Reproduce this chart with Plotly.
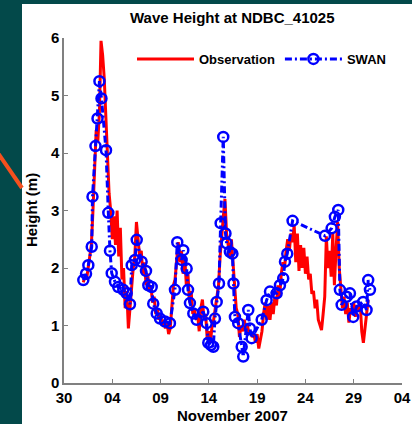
import pandas as pd
import plotly.graph_objects as go

# ---------------- data ----------------
obs_start = "2007-11-01 00:00"
obs_step_hours = 4
obs_height = [
    1.75, 1.85, 1.8, 2.0, 2.15, 2.4,      # Nov 1
    3.0, 3.8, 4.4, 4.2, 4.7, 5.95,        # Nov 2
    5.7, 5.3, 4.6, 3.9, 3.3, 3.0,         # Nov 3
    2.5, 2.9, 2.4, 3.0, 2.2, 2.7,         # Nov 4
    1.8, 2.0, 1.3, 1.6, 0.95, 1.3,        # Nov 5
    1.7, 2.0, 2.2, 2.8, 2.5, 2.2,         # Nov 6
    2.3, 1.9, 2.1, 1.7, 1.9, 1.6,         # Nov 7
    1.7, 1.4, 1.5, 1.2, 1.3, 1.1,         # Nov 8
    1.2, 1.0, 1.1, 0.95, 1.05, 0.85,      # Nov 9
    0.95, 1.3, 1.7, 1.8, 2.2, 2.45,       # Nov 10
    2.1, 2.3, 1.9, 2.2, 1.7, 1.9,         # Nov 11
    1.4, 1.6, 1.2, 1.3, 1.1, 1.2,         # Nov 12
    0.9, 1.3, 1.45, 1.1, 1.2, 0.75,       # Nov 13
    0.9, 0.7, 1.0, 1.1, 1.3, 1.5,         # Nov 14
    1.7, 2.2, 2.6, 2.9, 3.2, 2.6,         # Nov 15
    2.4, 2.2, 2.5, 2.0, 1.7, 1.3,         # Nov 16
    1.2, 0.8, 1.0, 0.9, 1.1, 0.95,        # Nov 17
    1.0, 0.85, 0.9, 0.8, 0.85, 0.7,       # Nov 18
    0.85, 0.6, 0.75, 0.9, 1.2, 1.4,       # Nov 19
    1.1, 1.35, 1.1, 1.4, 1.2, 1.5,        # Nov 20
    1.35, 1.7, 1.5, 1.9, 2.1, 2.0,        # Nov 21
    2.3, 2.5, 2.3, 2.6, 2.45, 2.75,       # Nov 22
    2.1, 2.6, 1.95, 2.4, 2.0, 2.35,       # Nov 23
    1.9, 2.2, 1.8, 1.9, 1.55, 1.6,        # Nov 24
    1.3, 1.45, 1.1, 1.0, 0.92, 1.2,       # Nov 25
    1.5, 2.55, 2.0, 2.3, 1.85, 2.6,       # Nov 26
    1.7, 2.3, 2.8, 2.0, 1.6, 1.3,         # Nov 27
    1.5, 1.2, 1.4, 1.05, 1.3, 1.2,        # Nov 28
    1.4, 1.15, 1.35, 1.25, 1.4, 0.9,      # Nov 29
    0.7, 1.0, 1.2, 1.45,                  # Nov 30
]

# SWAN output: days after 2007-10-30 00:00, and wave height (m)
swan_day = [
    2.00, 2.28, 2.52, 2.87, 2.95, 3.26, 3.47, 3.67, 3.88, 4.35,
    4.59, 4.76, 4.94, 5.28, 5.62, 6.14, 6.49, 6.83, 7.01, 7.35,
    7.53, 8.04, 8.49, 8.73, 9.08, 9.24, 9.60, 9.94, 10.46, 10.97,
    11.49, 11.73, 12.18, 12.35, 12.70, 12.84, 13.04, 13.39, 13.74, 14.42,
    14.77, 14.94, 15.22, 15.46, 15.63, 15.81, 16.05, 16.22, 16.49, 16.72,
    16.84, 17.18, 17.44, 17.55, 17.70, 18.04, 18.40, 18.56, 19.08, 19.25,
    19.43, 20.47, 20.98, 21.33, 22.02, 22.36, 22.70, 22.88, 23.12, 23.67,
    27.02, 27.71, 28.05, 28.40, 28.57, 28.75, 29.26, 29.61, 29.95, 30.30,
    30.98, 31.33, 31.50, 31.68,
]
swan_height = [
    1.79, 1.90, 2.05, 2.37, 3.24, 4.12, 4.60, 5.25, 4.95, 4.05,
    2.96, 2.30, 1.91, 1.76, 1.67, 1.62, 1.56, 1.37, 2.05, 2.14,
    2.49, 2.11, 1.95, 1.70, 1.67, 1.38, 1.21, 1.12, 1.07, 1.04,
    1.62, 2.45, 2.14, 2.31, 1.99, 1.62, 1.39, 1.21, 1.10, 1.24,
    1.04, 0.70, 0.66, 0.63, 1.12, 1.41, 1.73, 2.78, 4.28, 2.60,
    2.43, 2.28, 2.25, 1.73, 1.15, 1.04, 0.63, 0.46, 1.27, 0.95,
    0.78, 1.10, 1.44, 1.59, 1.56, 1.70, 1.82, 2.11, 2.25, 2.82,
    2.56, 2.69, 2.89, 3.01, 1.62, 1.36, 1.50, 1.56, 1.15, 1.33,
    1.41, 1.27, 1.79, 1.62,
]

tick_dates = ["2007-10-30", "2007-11-04", "2007-11-09", "2007-11-14",
              "2007-11-19", "2007-11-24", "2007-11-29", "2007-12-04"]
tick_labels = ["30", "04", "09", "14", "19", "24", "29", "04"]
y_ticks = [0, 1, 2, 3, 4, 5, 6]

# ---------------- build ----------------
obs_time = pd.date_range(obs_start, periods=len(obs_height), freq=f"{obs_step_hours}h")
base = pd.Timestamp("2007-10-30 00:00")
swan_time = [base + pd.Timedelta(days=d) for d in swan_day]

FONT = "Liberation Sans, Arial, sans-serif"
W, H = 412, 424
L, R, T, B = 64, 10, 38, 41
pw, ph = W - L - R, H - T - B


def px(xp):
    return (xp - L) / pw


def py(yp):
    return (H - B - yp) / ph


fig = go.Figure()
fig.add_trace(go.Scatter(
    x=obs_time, y=obs_height, mode="lines", name="Observation",
    line=dict(color="#ff0000", width=3),
))
fig.add_trace(go.Scatter(
    x=swan_time, y=swan_height, mode="lines+markers", name="SWAN",
    line=dict(color="#0000ff", width=3, dash="7px,3px,2px,3px"),
    marker=dict(symbol="circle-open", size=10, color="#0000ff",
                line=dict(width=2.5, color="#0000ff")),
))

fig.update_layout(
    width=W, height=H,
    margin=dict(l=L, r=R, t=T, b=B, autoexpand=False),
    paper_bgcolor="#03494a",
    plot_bgcolor="white",
    font=dict(family=FONT, color="black", size=15),
    showlegend=True,
    legend=dict(
        orientation="h", x=px(132), y=py(59), xanchor="left", yanchor="middle",
        bgcolor="rgba(0,0,0,0)", itemwidth=57,
        font=dict(family=FONT, size=13, color="black", weight="bold"),
        tracegroupgap=0,
    ),
    xaxis=dict(
        type="date", range=["2007-10-30", "2007-12-04"],
        tickvals=tick_dates, ticktext=tick_labels,
        ticks="inside", ticklen=4, tickcolor="#808080", tickwidth=1,
        showline=True, linecolor="#808080", linewidth=1.5,
        showgrid=False, zeroline=False,
        tickfont=dict(family=FONT, size=15, weight="bold"),
    ),
    yaxis=dict(
        range=[0, 6], tickvals=y_ticks,
        ticks="inside", ticklen=4, tickcolor="#808080", tickwidth=1,
        showline=True, linecolor="#808080", linewidth=1.5,
        showgrid=False, zeroline=False,
        tickfont=dict(family=FONT, size=15, weight="bold"),
    ),
    shapes=[
        dict(type="rect", xref="paper", yref="paper", layer="below",
             x0=px(22), x1=px(W + 5), y0=py(H + 5), y1=py(4),
             fillcolor="white", line=dict(width=0)),
        dict(type="line", xref="paper", yref="paper",
             x0=px(-2), y0=py(153), x1=px(22), y1=py(188),
             line=dict(color="#f5501e", width=4)),
    ],
    annotations=[
        dict(text="<b>Wave Height at NDBC_41025</b>", xref="paper", yref="paper",
             x=px(232), y=py(18), showarrow=False, xanchor="center", yanchor="middle",
             font=dict(family=FONT, size=15, color="black")),
        dict(text="<b>November 2007</b>", xref="paper", yref="paper",
             x=px(232), y=py(415), showarrow=False, xanchor="center", yanchor="middle",
             font=dict(family=FONT, size=15, color="black")),
        dict(text="<b>Height (m)</b>", xref="paper", yref="paper", textangle=-90,
             x=px(31), y=py(210), showarrow=False, xanchor="center", yanchor="middle",
             font=dict(family=FONT, size=15, color="black")),
    ],
)

fig.write_html(
    "out.html",
    config={"displayModeBar": False},
    post_script="document.body.style.margin='0';document.body.style.overflow='hidden';",
)
